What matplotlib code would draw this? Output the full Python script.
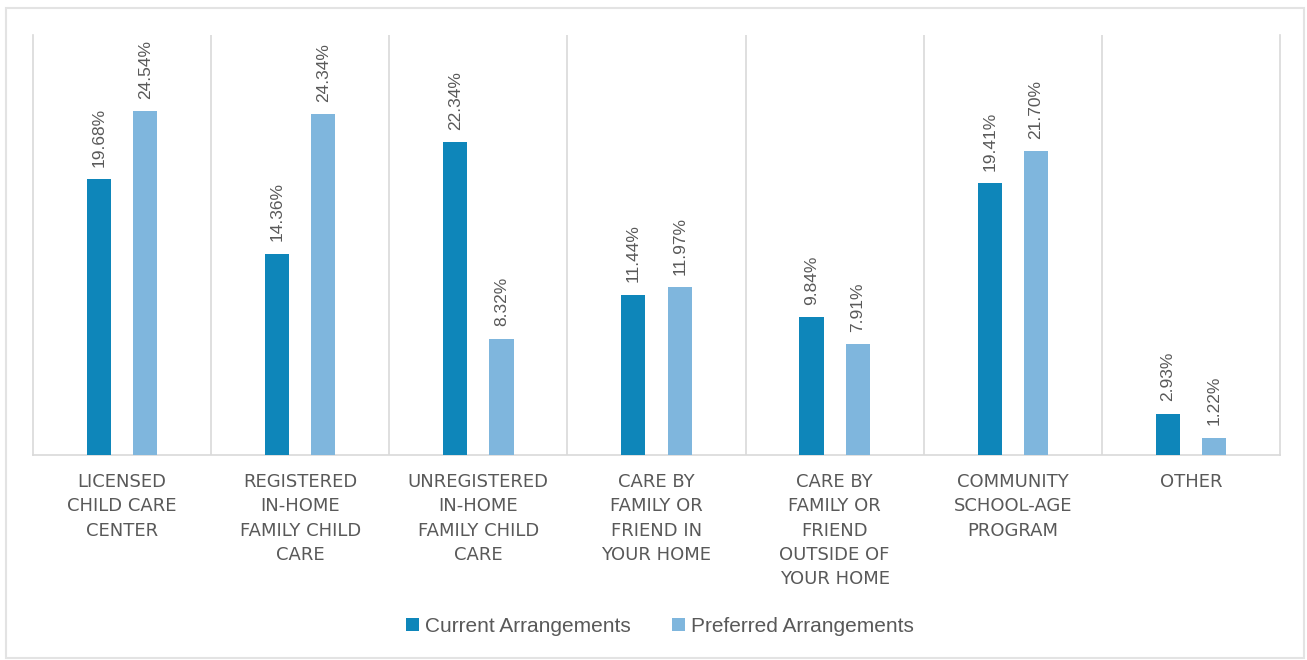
import matplotlib
matplotlib.use("Agg")
import matplotlib.pyplot as plt
from matplotlib.patches import Rectangle
import numpy as np

categories = [
    "LICENSED\nCHILD CARE\nCENTER",
    "REGISTERED\nIN-HOME\nFAMILY CHILD\nCARE",
    "UNREGISTERED\nIN-HOME\nFAMILY CHILD\nCARE",
    "CARE BY\nFAMILY OR\nFRIEND IN\nYOUR HOME",
    "CARE BY\nFAMILY OR\nFRIEND\nOUTSIDE OF\nYOUR HOME",
    "COMMUNITY\nSCHOOL-AGE\nPROGRAM",
    "OTHER",
]
current = [19.68, 14.36, 22.34, 11.44, 9.84, 19.41, 2.93]
preferred = [24.54, 24.34, 8.32, 11.97, 7.91, 21.70, 1.22]
series_names = ["Current Arrangements", "Preferred Arrangements"]

c_cur = "#0E86BA"
c_pref = "#7FB6DD"
txt = "#595959"
grid = "#D9D9D9"

W, H = 1307, 660
fig = plt.figure(figsize=(W / 100, H / 100), dpi=100)
fig.patch.set_facecolor("white")

# outer light border
fig.patches.append(Rectangle((6 / W, 1 - 658 / H), (1304 - 6) / W, (658 - 8) / H,
                             transform=fig.transFigure, fill=False,
                             edgecolor="#E3E3E3", linewidth=1.5))

ax = fig.add_axes([33 / W, 1 - 455 / H, (1280 - 33) / W, (455 - 35) / H])
x = np.arange(len(categories))
bw = 0.135
off = 0.13
b1 = ax.bar(x - off, current, bw, color=c_cur, label=series_names[0], zorder=3)
b2 = ax.bar(x + off, preferred, bw, color=c_pref, label=series_names[1], zorder=3)

for bars, vals in ((b1, current), (b2, preferred)):
    for r, v in zip(bars, vals):
        ax.annotate(f"{v:.2f}%", (r.get_x() + r.get_width() / 2, r.get_height()),
                    xytext=(0, 9), textcoords="offset points", rotation=90,
                    ha="center", va="bottom", fontsize=12.5, color=txt,
                    family="Liberation Sans")

ax.set_xlim(-0.5, len(categories) - 0.5)
ax.set_ylim(0, 30)
ax.set_yticks([])
for k in range(len(categories) - 1):
    ax.axvline(k + 0.5, color=grid, linewidth=1.2, zorder=1)
for s in ("left", "right", "bottom"):
    ax.spines[s].set_color(grid)
    ax.spines[s].set_linewidth(1.2)
ax.spines["top"].set_visible(False)

ax.set_xticks(x)
ax.set_xticklabels(categories, fontsize=13, color=txt, family="DejaVu Sans",
                   linespacing=1.45, va="top")
ax.tick_params(axis="x", length=0, pad=13)

leg = fig.legend(handles=[b1, b2], labels=series_names, loc="center",
                 bbox_to_anchor=(660 / W, 1 - 626 / H), ncol=2, frameon=False,
                 prop={"family": "Liberation Sans", "size": 15},
                 handlelength=0.6, handleheight=0.6, handletextpad=0.3,
                 columnspacing=2.0)
for t in leg.get_texts():
    t.set_color(txt)

fig.savefig("out.png", dpi=100, facecolor="white")
